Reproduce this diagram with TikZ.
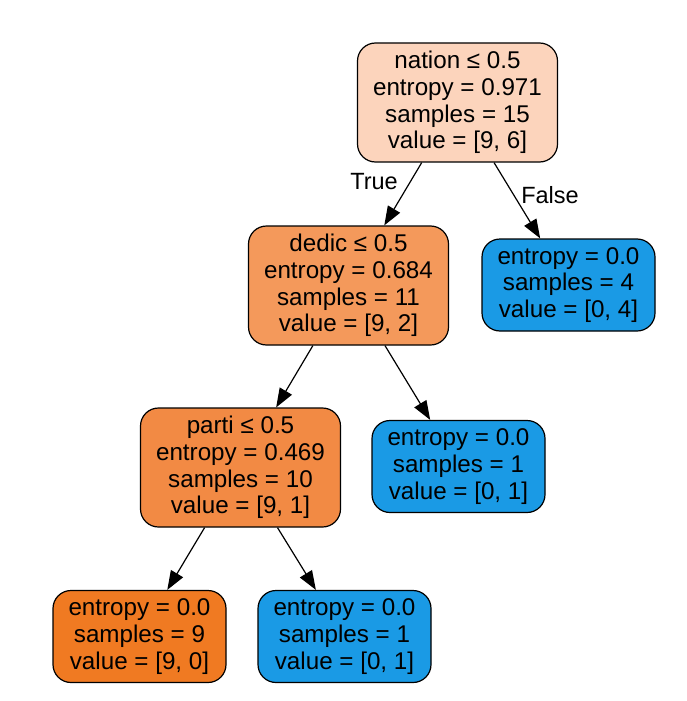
\documentclass[tikz,border=0pt]{standalone}
\usepackage{fontspec}
\setmainfont{Liberation Sans}
\usetikzlibrary{arrows.meta}
\definecolor{cRoot}{HTML}{FCD4BC}
\definecolor{cDedic}{HTML}{F4995B}
\definecolor{cParti}{HTML}{F28A44}
\definecolor{cOrange}{HTML}{F07A22}
\definecolor{cBlue}{HTML}{1A9AE5}
\tikzset{
  tnode/.style={draw=black, line width=1.2pt, rounded corners=18pt, align=center,
    inner sep=0pt, font=\fontsize{24.2}{26.7}\selectfont},
  splitbox/.style={tnode, minimum width=200pt, minimum height=119pt},
  leafbox/.style={tnode, minimum width=173pt, minimum height=92pt},
  edge/.style={draw=black, line width=1.2pt, -{Triangle[length=19pt,width=14pt]}},
  elabel/.style={font=\fontsize{23.5}{26}\selectfont, inner sep=0pt}
}
\begin{document}
\begin{tikzpicture}[x=1pt,y=-1pt]
\useasboundingbox (0,0) rectangle (687,701);
\node[splitbox, fill=cRoot] (root) at (457.5,102.5) {nation ≤ 0.5\\entropy = 0.971\\samples = 15\\value = [9, 6]};
\node[splitbox, fill=cDedic] (dedic) at (348.5,285.5) {dedic ≤ 0.5\\entropy = 0.684\\samples = 11\\value = [9, 2]};
\node[leafbox, fill=cBlue] (leafA) at (568.5,285) {entropy = 0.0\\samples = 4\\value = [0, 4]};
\node[splitbox, fill=cParti] (parti) at (240.5,467.5) {parti ≤ 0.5\\entropy = 0.469\\samples = 10\\value = [9, 1]};
\node[leafbox, fill=cBlue] (leafB) at (458.5,466.5) {entropy = 0.0\\samples = 1\\value = [0, 1]};
\node[leafbox, fill=cOrange] (leafC) at (139.5,636.5) {entropy = 0.0\\samples = 9\\value = [9, 0]};
\node[leafbox, fill=cBlue] (leafD) at (344.5,636.5) {entropy = 0.0\\samples = 1\\value = [0, 1]};
\draw[edge] (root) -- (dedic);
\draw[edge] (root) -- (leafA);
\draw[edge] (dedic) -- (parti);
\draw[edge] (dedic) -- (leafB);
\draw[edge] (parti) -- (leafC);
\draw[edge] (parti) -- (leafD);
\node[elabel] (lTrue) at (374,182) {True};
\node[elabel] (lFalse) at (550,195) {False};
\end{tikzpicture}
\end{document}
